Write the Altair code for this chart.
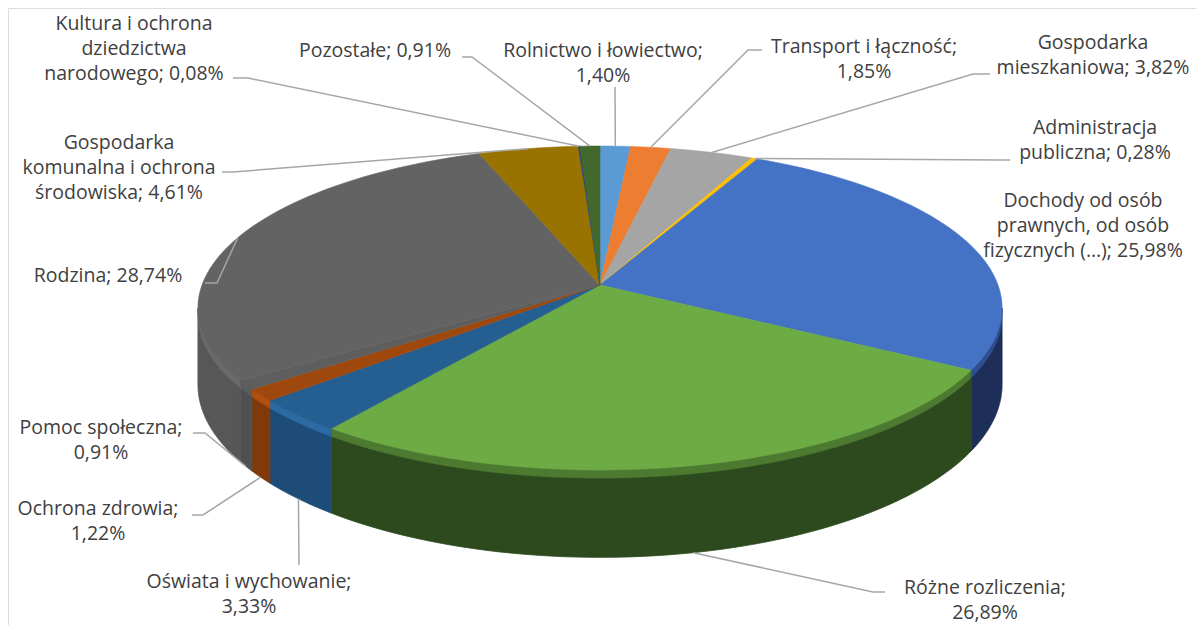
import math
import altair as alt
import pandas as pd

# ---------------- data ----------------
categories = [
    "Rolnictwo i łowiectwo",
    "Transport i łączność",
    "Gospodarka mieszkaniowa",
    "Administracja publiczna",
    "Dochody od osób prawnych, od osób fizycznych (…)",
    "Różne rozliczenia",
    "Oświata i wychowanie",
    "Ochrona zdrowia",
    "Pomoc społeczna",
    "Rodzina",
    "Gospodarka komunalna i ochrona środowiska",
    "Kultura i ochrona dziedzictwa narodowego",
    "Pozostałe",
]
shares = [1.40, 1.85, 3.82, 0.28, 25.98, 26.89, 3.33, 1.22, 0.91, 28.74, 4.61, 0.08, 0.91]

# label text wrapping (text content) and whether the percentage starts a new line
label_name_lines = [
    ["Rolnictwo i łowiectwo"],
    ["Transport i łączność"],
    ["Gospodarka", "mieszkaniowa"],
    ["Administracja", "publiczna"],
    ["Dochody od osób", "prawnych, od osób", "fizycznych (…)"],
    ["Różne rozliczenia"],
    ["Oświata i wychowanie"],
    ["Ochrona zdrowia"],
    ["Pomoc społeczna"],
    ["Rodzina"],
    ["Gospodarka", "komunalna i ochrona", "środowiska"],
    ["Kultura i ochrona", "dziedzictwa", "narodowego"],
    ["Pozostałe"],
]
pct_on_new_line = [True, True, False, False, False, True, True, True, True, False, False, False, False]

# ---------------- styles ----------------
top_colors = ["#5B9BD5", "#ED7D31", "#A5A5A5", "#FFC000", "#4472C4", "#6DAB45",
              "#255E91", "#9E480E", "#5E5E5E", "#636363", "#997300", "#264478", "#43682B"]
band_colors = ["#4F88BF", "#C8621F", "#8C8C8C", "#D9A300", "#2E4E8F", "#4C7A30",
               "#2B6AA3", "#B0500F", "#5C5C5C", "#6A6A6A", "#806000", "#203A66", "#385724"]
side_colors = ["#3C6E9C", "#A85520", "#767676", "#B38700", "#1D2F58", "#2D4A1E",
               "#1E4C78", "#80390A", "#505050", "#575757", "#6B5100", "#1A2F54", "#2E481E"]

# 3D pie geometry (pixel units of the page)
CX, CY = 600.0, 285.0      # projected centre of the top face
A, B = 398.0, 158.7        # horizontal / vertical half-axes
K = 0.142                  # perspective factor
D = 75.0                   # thickness
BAND = 7.0                 # bevel highlight height
N = 60                     # points per arc
TH_R = math.acos(-K)
TH_L = 2 * math.pi - TH_R

# label layout: (centre x, first baseline y) and leader start (x, y, stub)
label_pos = {
    0: (603, 57), 1: (864, 53), 2: (1093, 49), 3: (1095, 134), 4: (1083, 207),
    5: (985, 594), 6: (249, 588), 7: (98, 515), 8: (101, 434), 9: (108, 282),
    10: (119, 149), 11: (134, 30), 12: (375, 57),
}
leader_start = {
    0: (615, 87, 0), 1: (762, 50, -14), 2: (990, 74, -17), 3: (1010, 160, -10),
    5: (885, 592, -12), 6: (299, 565, 0), 7: (192, 515, 11), 8: (193, 433, 12),
    9: (205, 283, 12), 10: (222, 172, 11), 11: (233, 78, 15), 12: (462, 57, 10),
}


def fmt_pct(v):
    return f"{v:.2f}".replace(".", ",") + "%"


df = pd.DataFrame({"cat": categories, "value": shares, "idx": list(range(len(categories)))})

lab_rows = []
for i, c in enumerate(categories):
    lines = list(label_name_lines[i])
    if pct_on_new_line[i]:
        lines[-1] = lines[-1] + ";"
        lines.append(fmt_pct(shares[i]))
    else:
        lines[-1] = lines[-1] + "; " + fmt_pct(shares[i])
    lx, ly = label_pos[i]
    lab_rows.append({"cat": c, "lines": lines, "lx": lx, "ly": ly})
labels_df = pd.DataFrame(lab_rows)

lead_df = pd.DataFrame([
    {"cat": categories[i], "ex": v[0], "ey": v[1], "stub": v[2]} for i, v in leader_start.items()
])

xs = alt.Scale(domain=[8, 1196], nice=False, zero=False)
ys = alt.Scale(domain=[8, 625], nice=False, zero=False, reverse=True)
top_scale = alt.Scale(domain=categories, range=top_colors)
band_scale = alt.Scale(domain=categories, range=band_colors)
side_scale = alt.Scale(domain=categories, range=side_colors)

TWO_PI = "(2*PI)"


def base():
    return (
        alt.Chart(df)
        .transform_joinaggregate(total="sum(value)")
        .transform_window(cum="sum(value)", sort=[alt.SortField("idx")], frame=[None, 0])
        .transform_calculate(
            a1=f"{TWO_PI}*(datum.cum - datum.value)/datum.total",
            a2=f"{TWO_PI}*datum.cum/datum.total",
        )
    )


def wall(depth, scale, width):
    return (
        base()
        .transform_calculate(b1=f"max(datum.a1, {TH_R})", b2=f"min(datum.a2, {TH_L})")
        .transform_filter("datum.b2 > datum.b1")
        .transform_calculate(seq=f"sequence(0, {2 * N + 2})")
        .transform_flatten(["seq"])
        .transform_calculate(
            t=f"datum.seq <= {N} ? datum.b1 + (datum.b2 - datum.b1)*datum.seq/{N} : "
              f"datum.b2 - (datum.b2 - datum.b1)*(datum.seq - {N + 1})/{N}"
        )
        .transform_calculate(w=f"1 + {K}*cos(datum.t)")
        .transform_calculate(
            px=f"{CX} + {A}*sin(datum.t)/datum.w",
            py=f"{CY} - {B}*cos(datum.t)/datum.w + (datum.seq > {N} ? {depth}/datum.w : 0)",
        )
        .mark_line(interpolate="linear-closed", strokeWidth=width)
        .encode(
            x=alt.X("px:Q", scale=xs, axis=None),
            y=alt.Y("py:Q", scale=ys, axis=None),
            fill=alt.Fill("cat:N", scale=scale, legend=None),
            stroke=alt.Stroke("cat:N", scale=scale, legend=None),
            detail="cat:N",
            order=alt.Order("seq:Q"),
        )
    )


# ---- side walls (front half only) and bevel highlight ----
sides = wall(D, side_scale, 0.8)
bevel = wall(BAND, band_scale, 0.5)

# ---- top faces ----
tops = (
    base()
    .transform_calculate(seq=f"sequence(0, {N + 2})")
    .transform_flatten(["seq"])
    .transform_calculate(t=f"datum.a1 + (datum.a2 - datum.a1)*(datum.seq - 1)/{N}")
    .transform_calculate(w=f"1 + {K}*cos(datum.t)")
    .transform_calculate(
        px=f"datum.seq == 0 ? {CX} : {CX} + {A}*sin(datum.t)/datum.w",
        py=f"datum.seq == 0 ? {CY} : {CY} - {B}*cos(datum.t)/datum.w",
    )
    .mark_line(interpolate="linear-closed", strokeWidth=0.6)
    .encode(
        x=alt.X("px:Q", scale=xs, axis=None),
        y=alt.Y("py:Q", scale=ys, axis=None),
        fill=alt.Fill("cat:N", scale=top_scale, legend=None),
        stroke=alt.Stroke("cat:N", scale=top_scale, legend=None),
        detail="cat:N",
        order=alt.Order("seq:Q"),
    )
)

# ---- leader lines ----
leaders = (
    base()
    .transform_lookup(lookup="cat", from_=alt.LookupData(lead_df, "cat", ["ex", "ey", "stub"]))
    .transform_filter("isValid(datum.ex)")
    .transform_calculate(m="(datum.a1 + datum.a2)/2")
    .transform_calculate(w=f"1 + {K}*cos(datum.m)")
    .transform_calculate(
        ax=f"{CX} + {A}*sin(datum.m)/datum.w",
        ay=f"{CY} - {B}*cos(datum.m)/datum.w + (cos(datum.m) < 0 ? {D}/datum.w : 0)",
    )
    .transform_calculate(seq="sequence(0, 3)")
    .transform_flatten(["seq"])
    .transform_calculate(
        px="datum.seq == 0 ? datum.ex : (datum.seq == 1 ? datum.ex + datum.stub : datum.ax)",
        py="datum.seq == 2 ? datum.ay : datum.ey",
    )
    .mark_line(color="#A6A6A6", strokeWidth=1.5)
    .encode(
        x=alt.X("px:Q", scale=xs, axis=None),
        y=alt.Y("py:Q", scale=ys, axis=None),
        detail="cat:N",
        order=alt.Order("seq:Q"),
    )
)

# ---- labels ----
labels = (
    alt.Chart(labels_df)
    .mark_text(align="center", baseline="alphabetic", font="Open Sans", fontSize=19.5,
               lineHeight=25, color="#404040")
    .encode(
        x=alt.X("lx:Q", scale=xs, axis=None),
        y=alt.Y("ly:Q", scale=ys, axis=None),
        text="lines",
    )
)

chart = (
    alt.layer(sides, bevel, tops, leaders, labels)
    .resolve_scale(fill="independent", stroke="independent")
    .properties(width=1188, height=617, padding=0, autosize=alt.AutoSizeParams(type="none"))
    .configure_view(stroke=None)
    .configure(background="white")
)

chart.save("out.html", embed_options={"renderer": "svg", "actions": False})
